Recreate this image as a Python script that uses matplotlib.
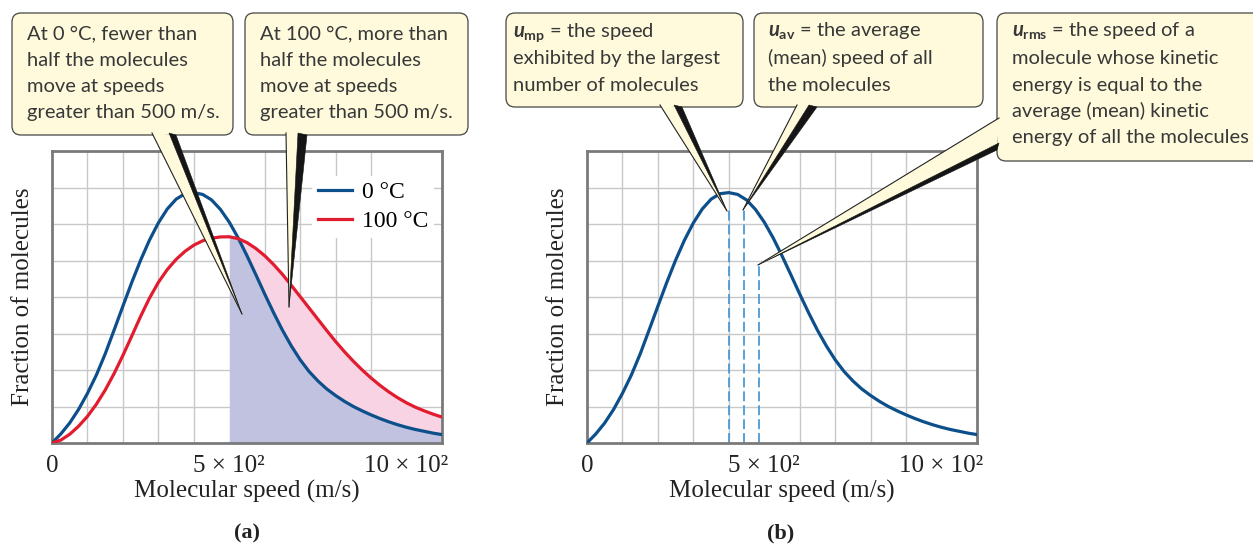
import numpy as np
import matplotlib.pyplot as plt
from matplotlib.patches import FancyBboxPatch, Polygon
from matplotlib.transforms import Affine2D

# speeds (m/s) and fraction of molecules (grid units 0..8)
speed = list(range(0, 1101, 25))
frac_0C = [0.0, 0.25, 0.55, 0.92, 1.36, 1.86, 2.44, 3.09, 3.75, 4.40, 5.01, 5.56,
           6.03, 6.41, 6.68, 6.83, 6.86, 6.81, 6.66, 6.40, 6.05, 5.62, 5.13, 4.61,
           4.08, 3.57, 3.09, 2.66, 2.28, 1.96, 1.70, 1.48, 1.30, 1.14, 1.00, 0.88,
           0.77, 0.67, 0.58, 0.50, 0.43, 0.37, 0.32, 0.27, 0.23]
frac_100C = [0.0, 0.08, 0.24, 0.46, 0.73, 1.06, 1.45, 1.90, 2.40, 2.93, 3.47, 3.97,
             4.40, 4.75, 5.03, 5.25, 5.42, 5.54, 5.61, 5.645, 5.65, 5.60, 5.49, 5.33,
             5.13, 4.89, 4.62, 4.32, 4.01, 3.70, 3.39, 3.08, 2.78, 2.50, 2.24, 2.00,
             1.78, 1.58, 1.40, 1.24, 1.10, 0.98, 0.88, 0.79, 0.71]
cut_speed = 500
u_speeds = [400, 443, 485]      # u_mp, u_av, u_rms
u_tops = [6.4, 6.4, 4.9]

tick_pos = [0, 500, 1000]
tick_txt = ['0', '5 × 10²', '10 × 10²']

BLUE = '#0d4f8b'
RED = '#e21c2f'
LAV = '#c0c2e0'
PINK = '#f7d3e3'
NOTE = '#fefadb'

W, H = 1253, 544
plt.rcParams['font.family'] = ['Liberation Serif', 'DejaVu Serif']
plt.rcParams['mathtext.fontset'] = 'custom'
plt.rcParams['mathtext.it'] = 'Lato:italic:bold'
plt.rcParams['mathtext.rm'] = 'Lato:bold'
plt.rcParams['mathtext.bf'] = 'Lato:bold'

fig = plt.figure(figsize=(W / 100, H / 100), dpi=100)
# pixel coords (origin top left) -> figure
T = Affine2D().scale(1 / W, -1 / H).translate(0, 1) + fig.transFigure

ax_a = fig.add_axes([52 / W, 1 - 443 / H, 390 / W, 292 / H])
ax_b = fig.add_axes([587 / W, 1 - 443 / H, 390 / W, 292 / H])

for ax in (ax_a, ax_b):
    ax.set_xlim(0, 1100)
    ax.set_ylim(0, 8)
    ax.set_xticks(range(0, 1101, 100), minor=True)
    ax.set_yticks(range(0, 9), minor=True)
    ax.set_xticks(tick_pos)
    ax.set_xticklabels(tick_txt)
    ax.set_yticks([])
    ax.grid(which='minor', color='#c8c8c8', lw=1.0)
    ax.set_axisbelow(True)
    ax.tick_params(which='both', length=0, labelsize=18, pad=9, colors='#222222')
    for s in ax.spines.values():
        s.set_color('#7a7a7a')
        s.set_linewidth(2.0)
    ax.set_xlabel('Molecular speed (m/s)', fontsize=18, color='#222222')
    ax.set_ylabel('Fraction of molecules', fontsize=18, color='#222222')
    ax.xaxis.set_label_coords(0.5, -0.128)
    ax.yaxis.set_label_coords(-0.045, 0.5)

sp = np.array(speed)
b = np.array(frac_0C)
r = np.array(frac_100C)
hot = sp >= cut_speed

# (a)
ax_a.fill_between(sp, 0, np.minimum(b, r), where=hot, color=LAV, lw=0, zorder=1)
ax_a.fill_between(sp, b, r, where=hot & (r >= b), interpolate=True, color=PINK, lw=0, zorder=1)
ax_a.plot(sp, b, color=BLUE, lw=2.3, label='0 °C', zorder=3, solid_joinstyle='round')
ax_a.plot(sp, r, color=RED, lw=2.3, label='100 °C', zorder=3, solid_joinstyle='round')
leg = ax_a.legend(loc='upper left', bbox_to_anchor=(0.667, 0.915), borderaxespad=0,
                  borderpad=0.25, fontsize=17, handlelength=1.45, handletextpad=0.4,
                  labelspacing=0.3, frameon=True, fancybox=False)
leg.get_frame().set_facecolor('white')
leg.get_frame().set_edgecolor('none')
leg.get_frame().set_alpha(1)

# (b)
ax_b.plot(sp, b, color=BLUE, lw=2.3, zorder=3, solid_joinstyle='round')
for u, top in zip(u_speeds, u_tops):
    ax_b.plot([u, u], [0, top], color='#4a9ad6', lw=1.3, dashes=(5.5, 2.2), zorder=2)

fig.text(247, 533, '(a)', transform=T, ha='center', va='center', fontsize=16,
         fontweight='bold', color='#222222')
fig.text(781, 533, '(b)', transform=T, ha='center', va='center', fontsize=16,
         fontweight='bold', color='#222222')


def note_box(x0, y0, x1, y1):
    p = FancyBboxPatch((x0, y0), x1 - x0, y1 - y0, boxstyle='round,pad=0,rounding_size=9',
                       transform=T, facecolor=NOTE, edgecolor='#454545', lw=0.9, zorder=10)
    fig.add_artist(p)


def pointer(base_a, base_b, base_c, tip):
    # base_a..base_b light part, base_b..base_c dark shadow edge
    fig.add_artist(Polygon([base_a, base_c, tip], closed=True, transform=T,
                           facecolor=NOTE, edgecolor='none', zorder=11))
    fig.add_artist(Polygon([base_b, base_c, tip], closed=True, transform=T,
                           facecolor='#151515', edgecolor='#151515', lw=0.4, zorder=11))
    fig.add_artist(plt.Line2D([base_a[0], tip[0]], [base_a[1], tip[1]], transform=T,
                              color='#222222', lw=0.8, zorder=11))


def note_text(x, ys, lines):
    for y, s in zip(ys, lines):
        fig.text(x, y, s, transform=T, ha='left', va='baseline', fontsize=14.5,
                 family=['Lato', 'DejaVu Sans'], color='#383838', zorder=12)


note_box(12, 13, 233, 135)
note_box(245, 13, 468, 135)
note_box(506, 13, 743, 107)
note_box(754, 13, 983, 107)
note_box(997, 13, 1262, 161)

pointer((152, 133), (169, 133), (176, 135), (242, 314))
pointer((286, 133), (298, 133), (307, 135), (289, 307))
pointer((660, 105), (674, 105), (682, 107), (727, 211))
pointer((797, 105), (809, 105), (817, 107), (743, 210))
pointer((999, 118), (999, 143), (997, 150), (758, 265))

note_text(27, [39, 66, 92, 118], ['At 0 °C, fewer than', 'half the molecules',
                                  'move at speeds', 'greater than 500 m/s.'])
note_text(260, [39, 66, 92, 118], ['At 100 °C, more than', 'half the molecules',
                                   'move at speeds', 'greater than 500 m/s.'])
note_text(513, [37, 64, 91], [r'$\mathit{u}_{\mathrm{mp}}$ = the speed',
                              'exhibited by the largest', 'number of molecules'])
note_text(768, [37, 64, 91], [r'$\mathit{u}_{\mathrm{av}}$ = the average',
                              '(mean) speed of all', 'the molecules'])
note_text(1012, [37, 64, 91, 117, 143], [r'$\mathit{u}_{\mathrm{rms}}$ = the speed of a',
                                         'molecule whose kinetic', 'energy is equal to the',
                                         'average (mean) kinetic',
                                         'energy of all the molecules'])

fig.savefig('out.png', dpi=100)
